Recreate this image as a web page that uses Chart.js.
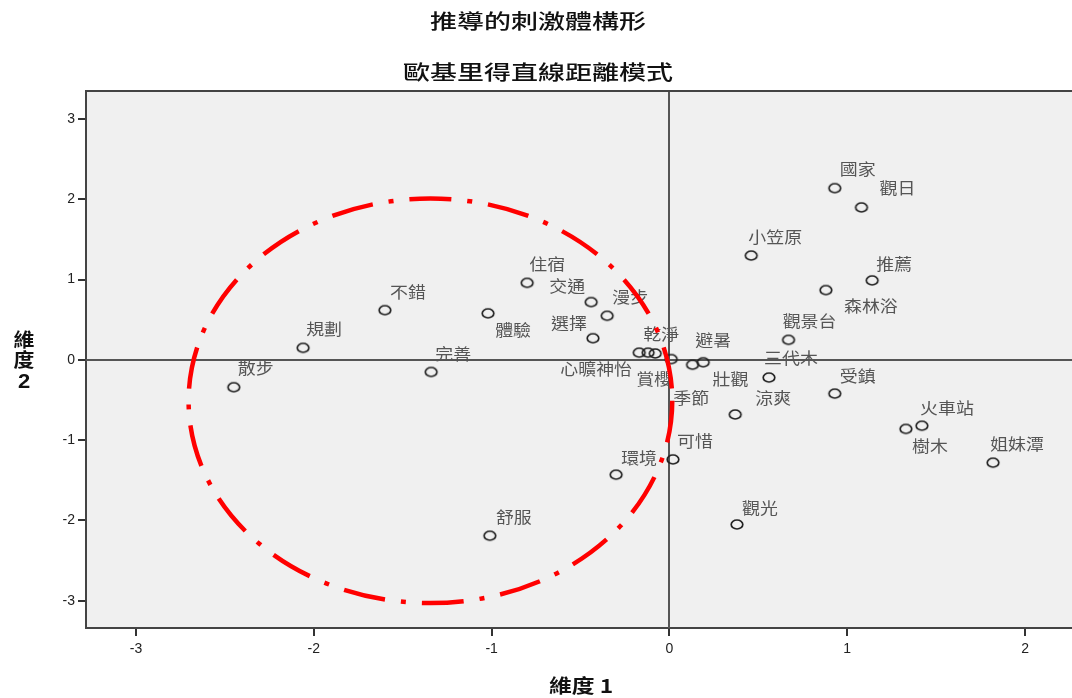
<!DOCTYPE html>
<html><head><meta charset="utf-8">
<script src="https://cdn.jsdelivr.net/npm/chart.js@4/dist/chart.umd.min.js"></script>
<style>html,body{margin:0;padding:0;background:#fff;overflow:hidden;}#wrap{width:1072px;height:698px;}canvas{display:block;}</style>
</head><body><div id="wrap"><canvas id="c" width="1072" height="698"></canvas></div>
<script>
const titleLines = ['推導的刺激體構形', '歐基里得直線距離模式'];
const xAxisTitle = '維度 1';
const yAxisTitle = ['維', '度', '2'];
const xTicks = [-3, -2, -1, 0, 1, 2];
const yTicks = [-3, -2, -1, 0, 1, 2, 3];

const stimuli = ['散步','規劃','不錯','完善','體驗','住宿','交通','漫步','選擇','心曠神怡','賞櫻','乾淨','季節','避暑','壯觀','三代木','涼爽','可惜','環境','舒服','觀光','觀景台','森林浴','推薦','小笠原','國家','觀日','受鎮','樹木','火車站','姐妹潭'];
const dim1 = [-2.45,-2.06,-1.60,-1.34,-1.02,-0.80,-0.44,-0.35,-0.43,-0.17,-0.12,-0.08,0.01,0.19,0.13,0.56,0.37,0.02,-0.30,-1.01,0.38,0.67,0.88,1.14,0.46,0.93,1.08,0.93,1.33,1.42,1.82];
const dim2 = [-0.34,0.15,0.62,-0.15,0.58,0.96,0.72,0.55,0.27,0.09,0.09,0.08,0.01,-0.03,-0.06,-0.22,-0.68,-1.24,-1.43,-2.19,-2.05,0.25,0.87,0.99,1.30,2.14,1.90,-0.42,-0.86,-0.82,-1.28];

// label placement offsets (pixels, relative to the marker)
const labelDx = [22,21,23,22,25,20,-24,23,-24,-43,6,6,20,10,38,22,38,22,23,24,23,21,45,22,24,23,36,23,24,25,24];
const labelDy = [-19,-19,-18,-18,17,-19,-16,-19,-15,16,26,-20,39,-22,14,-20,-17,-19,-17,-19,-17,-19,16,-17,-19,-19,-19,-18,17,-18,-19];

const ringCenter = [-1.344, -0.51];
const ringRadii = [1.36, 2.52];

const marker = document.createElement('canvas');
marker.width = 16; marker.height = 13;
(function(){
  const m = marker.getContext('2d');
  m.strokeStyle = '#222'; m.lineWidth = 1.7;
  m.beginPath(); m.ellipse(8, 6.5, 5.8, 4.5, 0, 0, Math.PI*2); m.stroke();
})();

function stretchText(ctx, text, x, y, sx) {
  ctx.save(); ctx.translate(x, y); ctx.scale(sx, 1); ctx.fillText(text, 0, 0); ctx.restore();
}

const decor = {
  id: 'decor',
  beforeDraw(chart) {
    const {ctx, chartArea: a} = chart;
    ctx.save();
    ctx.fillStyle = '#f0f0f0';
    ctx.fillRect(a.left, a.top, a.right - a.left, a.bottom - a.top);
    ctx.restore();
  },
  beforeDatasetsDraw(chart) {
    const {ctx, chartArea: a, scales: {x, y}} = chart;
    ctx.save();
    ctx.strokeStyle = '#555'; ctx.lineWidth = 2;
    const x0 = Math.round(x.getPixelForValue(0)), y0 = Math.round(y.getPixelForValue(0));
    ctx.beginPath();
    ctx.moveTo(x0, a.top); ctx.lineTo(x0, a.bottom);
    ctx.moveTo(a.left, y0); ctx.lineTo(a.right, y0);
    ctx.stroke();
    ctx.restore();
  },
  afterDatasetsDraw(chart) {
    const {ctx, scales: {x, y}} = chart;
    ctx.save();
    ctx.fillStyle = '#555';
    ctx.font = '16px "Noto Sans CJK TC", "Noto Sans", sans-serif';
    ctx.textAlign = 'center'; ctx.textBaseline = 'middle';
    stimuli.forEach((s, i) => {
      const px = x.getPixelForValue(dim1[i]) + labelDx[i];
      const py = y.getPixelForValue(dim2[i]) + labelDy[i];
      stretchText(ctx, s, px, py, 1.12);
    });
    const cx = x.getPixelForValue(ringCenter[0]), cy = y.getPixelForValue(ringCenter[1]);
    const rx = Math.abs(x.getPixelForValue(ringCenter[0] + ringRadii[0]) - cx);
    const ry = Math.abs(y.getPixelForValue(ringCenter[1] + ringRadii[1]) - cy);
    ctx.strokeStyle = '#ff0000'; ctx.lineWidth = 4.5;
    ctx.setLineDash([42, 16, 5, 16]);
    ctx.beginPath(); ctx.ellipse(cx, cy, rx, ry, 0, 0, Math.PI*2); ctx.stroke();
    ctx.restore();
  },
  afterDraw(chart) {
    const {ctx, chartArea: a} = chart;
    ctx.save();
    ctx.strokeStyle = '#444'; ctx.lineWidth = 2;
    ctx.beginPath(); ctx.moveTo(a.left - 1, a.top); ctx.lineTo(a.right, a.top); ctx.stroke();
    ctx.fillStyle = '#111';
    ctx.textAlign = 'center'; ctx.textBaseline = 'middle';
    ctx.font = '500 20px "Noto Sans CJK TC", sans-serif';
    stretchText(ctx, titleLines[0], 538, 21, 1.35);
    stretchText(ctx, titleLines[1], 538, 72, 1.35);
    ctx.font = 'bold 19px "Noto Sans CJK TC", sans-serif';
    stretchText(ctx, xAxisTitle, 581, 686, 1.2);
    stretchText(ctx, yAxisTitle[0], 24, 340, 1.1);
    stretchText(ctx, yAxisTitle[1], 24, 360, 1.1);
    ctx.font = 'bold 20px "Liberation Sans", sans-serif';
    stretchText(ctx, yAxisTitle[2], 24, 382, 1.1);
    ctx.restore();
  }
};

new Chart(document.getElementById('c'), {
  type: 'scatter',
  data: { datasets: [{
    data: dim1.map((v, i) => ({x: v, y: dim2[i]})),
    pointStyle: marker, pointRadius: 6, pointHoverRadius: 6
  }]},
  options: {
    responsive: false, animation: false, devicePixelRatio: 1,
    layout: { autoPadding: false, padding: { top: 91, left: 0, right: 0, bottom: 0 } },
    plugins: { legend: {display: false}, tooltip: {enabled: false}, title: {display: false} },
    scales: {
      x: {
        type: 'linear', min: -3.281, max: 2.264,
        afterBuildTicks: s => { s.ticks = xTicks.map(v => ({value: v})); },
        afterFit: s => { s.height = 70; s.paddingLeft = 0; s.paddingRight = 0; },
        ticks: { font: {family: '"Liberation Sans", Arial, sans-serif', size: 14}, color: '#222', padding: 5, maxRotation: 0 },
        grid: { drawOnChartArea: false, drawTicks: true, tickLength: 8, color: '#333', lineWidth: 2 },
        border: { display: true, color: '#444', width: 2 }
      },
      y: {
        type: 'linear', min: -3.34, max: 3.35,
        afterBuildTicks: s => { s.ticks = yTicks.map(v => ({value: v})); },
        afterFit: s => { s.width = 86; s.paddingTop = 0; s.paddingBottom = 0; },
        ticks: { font: {family: '"Liberation Sans", Arial, sans-serif', size: 14}, color: '#222', padding: 3 },
        grid: { drawOnChartArea: false, drawTicks: true, tickLength: 8, color: '#333', lineWidth: 2 },
        border: { display: true, color: '#444', width: 2 }
      }
    }
  },
  plugins: [decor]
});
</script></body></html>
